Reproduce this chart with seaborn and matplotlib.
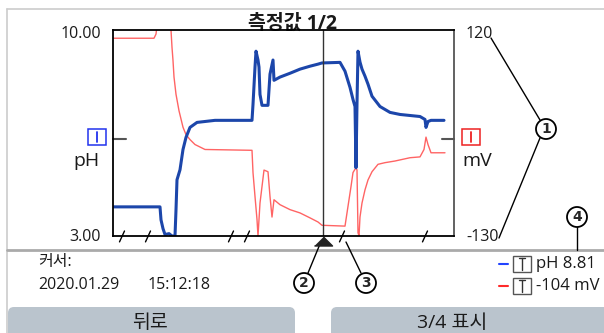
import numpy as np
import pandas as pd
import matplotlib
matplotlib.use("Agg")
import matplotlib.pyplot as plt
from matplotlib.patches import FancyBboxPatch, Circle, Rectangle
import seaborn as sns

# data (t = sample index across the trace)
ph_t = [0, 47, 48, 50, 52, 56, 59, 62, 63, 64, 67, 70, 73, 77, 84, 102, 139, 140, 142, 143, 145, 146, 147,
        149, 155, 157, 160, 161, 167, 177, 187, 197, 205, 209, 227, 232, 237, 240, 242, 243, 244, 245,
        247, 249, 252, 255, 259, 267, 277, 287, 307, 312, 313, 315, 318, 331]
ph_val = [3.99, 3.99, 3.55, 3.25, 3.05, 3.08, 3.0, 3.0, 3.89, 4.91, 5.25, 5.94, 6.35, 6.69, 6.86, 6.93, 6.93,
          7.47, 8.74, 9.28, 8.98, 8.74, 7.81, 7.44, 7.44, 8.50, 8.98, 8.29, 8.40, 8.53, 8.67, 8.77, 8.84,
          8.88, 8.90, 8.60, 8.05, 7.64, 7.40, 5.32, 7.5, 9.28, 8.91, 8.67, 8.43, 8.16, 7.75, 7.40, 7.20,
          7.13, 7.06, 6.96, 6.69, 6.89, 6.93, 6.93]

mv_t = [0, 41, 43, 45, 57, 58, 59, 60, 61, 63, 66, 70, 73, 77, 82, 92, 139, 140, 142, 144, 145, 147, 149,
        151, 155, 157, 159, 161, 167, 177, 187, 197, 205, 209, 232, 234, 236, 238, 240, 243, 244, 245,
        246, 247, 249, 252, 255, 259, 265, 272, 282, 297, 307, 311, 313, 315, 318, 332]
mv_val = [110, 110, 115, 135, 135, 120, 99, 83, 63, 42, 22, 2, -7, -13, -19, -25, -26, -53, -82, -110,
          -130, -90, -70, -50, -52, -82, -107, -86, -92, -98, -102, -108, -113, -117, -118, -102, -86, -70,
          -53, -47, -50, -126, -130, -107, -90, -74, -62, -52, -43, -41, -39, -35, -34, -25, -10, -19, -29, -29]

ph_range = (3.0, 10.0)
mv_range = (-130, 120)
t_range = (0, 341)
cursor_t = 210
ref_ph = 6.31
break_t = [9, 35, 118, 134, 229, 312]

ph_labels = ["10.00", "3.00"]
mv_labels = ["120", "-130"]
cursor_date = "2020.01.29"
cursor_time = "15:12:18"
cursor_ph = "pH 8.81"
cursor_mv = "-104 mV"

sns.set_style("white")
fam = ["Open Sans", "Noto Sans CJK KR", "DejaVu Sans"]
plt.rcParams["font.family"] = fam
txt = "#1a1a1a"

fig = plt.figure(figsize=(6.04, 3.33), dpi=100)

# full-figure overlay in pixel coordinates for the screen furniture
bg = fig.add_axes([0, 0, 1, 1])
bg.set_xlim(0, 604)
bg.set_ylim(333, 0)
bg.axis("off")
bg.plot([7, 604], [9, 9], color="#cccccc", lw=1.2)
bg.plot([7, 7], [9, 333], color="#cccccc", lw=1.2)
bg.plot([7, 604], [250, 250], color="#aaaaaa", lw=2)
for x0, x1 in [(8, 295), (331, 640)]:
    bg.add_patch(FancyBboxPatch((x0, 307), x1 - x0, 40, boxstyle="round,pad=0,rounding_size=6",
                                fc="#bac4cd", ec="none"))
bg.text(150, 323, "뒤로", fontsize=14, ha="center", va="center", color=txt)
bg.text(452, 323, "3/4 표시", fontsize=14, ha="center", va="center", color=txt)

bg.text(293, 24, "측정값 1/2", fontsize=14, fontweight="bold", ha="center", va="center", color=txt)
bg.text(101, 34, ph_labels[0], fontsize=11.5, ha="right", va="center", color=txt)
bg.text(101, 237, ph_labels[1], fontsize=11.5, ha="right", va="center", color=txt)
bg.text(466, 34, mv_labels[0], fontsize=11.5, ha="left", va="center", color=txt)
bg.text(466, 237, mv_labels[1], fontsize=11.5, ha="left", va="center", color=txt)

# channel badges beside the axes
for x0, col in [(88, "#2233ee"), (462, "#ee2222")]:
    bg.add_patch(Rectangle((x0, 129), 18, 16, fc="white", ec=col, lw=1.1))
    bg.plot([x0 + 9, x0 + 9], [132, 142], color=col, lw=1.3)
bg.text(86, 161, "pH", fontsize=14, ha="center", va="center", color=txt)
bg.text(477, 161, "mV", fontsize=14, ha="center", va="center", color=txt)

bg.text(38, 262, "커서:", fontsize=11.5, ha="left", va="center", color=txt)
bg.text(38, 285, cursor_date, fontsize=11.5, ha="left", va="center", color=txt)
bg.text(148, 285, cursor_time, fontsize=11.5, ha="left", va="center", color=txt)

# cursor readout
for yy, col, label in [(264, "#2244ff", cursor_ph), (286, "#ff2a2a", cursor_mv)]:
    bg.plot([499, 508], [yy, yy], color=col, lw=1.5)
    bg.add_patch(Rectangle((513, yy - 8), 18, 16, fc="white", ec="#555555", lw=1))
    bg.plot([522, 522], [yy - 6, yy + 6], color="#333333", lw=1)
    bg.plot([519, 525], [yy - 6, yy - 6], color="#333333", lw=1)
    bg.text(536, yy, label, fontsize=12, ha="left", va="center", color=txt)

# numbered callouts
bg.plot([491, 540], [38, 120], color="black", lw=1)
bg.plot([540, 499], [138, 238], color="black", lw=1)
bg.plot([577, 577], [227, 250], color="black", lw=1)
bg.plot([308, 320], [273, 244], color="black", lw=1)
bg.plot([361, 346], [273, 242], color="black", lw=1)
for (cx, cy, n) in [(546, 129, "1"), (304, 283, "2"), (366, 283, "3"), (577, 217, "4")]:
    bg.add_patch(Circle((cx, cy), 10, fc="white", ec="black", lw=1.3, zorder=3))
    bg.text(cx, cy, n, fontsize=10, fontweight="bold", ha="center", va="center", zorder=4,
            family="DejaVu Sans")

# chart
ax = fig.add_axes([113 / 604, 1 - 236 / 333, (454 - 113) / 604, (236 - 30) / 333])
ax2 = ax.twinx()
ax.set_zorder(2)
ax2.set_zorder(1)
ax.patch.set_visible(False)

mv_df = pd.DataFrame({"t": mv_t, "mV": mv_val})
ph_df = pd.DataFrame({"t": ph_t, "pH": ph_val})
sns.lineplot(data=mv_df, x="t", y="mV", ax=ax2, color="#ff6464", lw=1.0, estimator=None, sort=False)
sns.lineplot(data=ph_df, x="t", y="pH", ax=ax, color="#1c46aa", lw=2.2, estimator=None, sort=False)

ax.set_xlim(*t_range)
ax.set_ylim(*ph_range)
ax2.set_ylim(*mv_range)
for a in (ax, ax2):
    a.set_xticks([])
    a.set_yticks([])
    a.set_xlabel("")
    a.set_ylabel("")
for s in ax2.spines.values():
    s.set_visible(False)
for side in ["left", "top", "bottom"]:
    ax.spines[side].set_color("black")
    ax.spines[side].set_linewidth(1.3)
ax.spines["right"].set_color("#555555")
ax.spines["right"].set_linewidth(1.3)

ax.axvline(cursor_t, color="#333333", lw=1.0)
ax.plot([0, 13], [ref_ph, ref_ph], color="#555555", lw=1.5, clip_on=False)
ax.plot([t_range[1] - 12, t_range[1]], [ref_ph, ref_ph], color="#555555", lw=1.5, clip_on=False)
for b in break_t:
    ax.plot([b - 2.5, b + 2.5], [2.80, 3.17], color="black", lw=1, clip_on=False)
ax.plot(cursor_t, 2.82, marker=[(-1, -0.5), (1, -0.5), (0, 0.5)], ms=13, color="#222222",
        clip_on=False, zorder=5)

fig.savefig("out.png", dpi=100)
